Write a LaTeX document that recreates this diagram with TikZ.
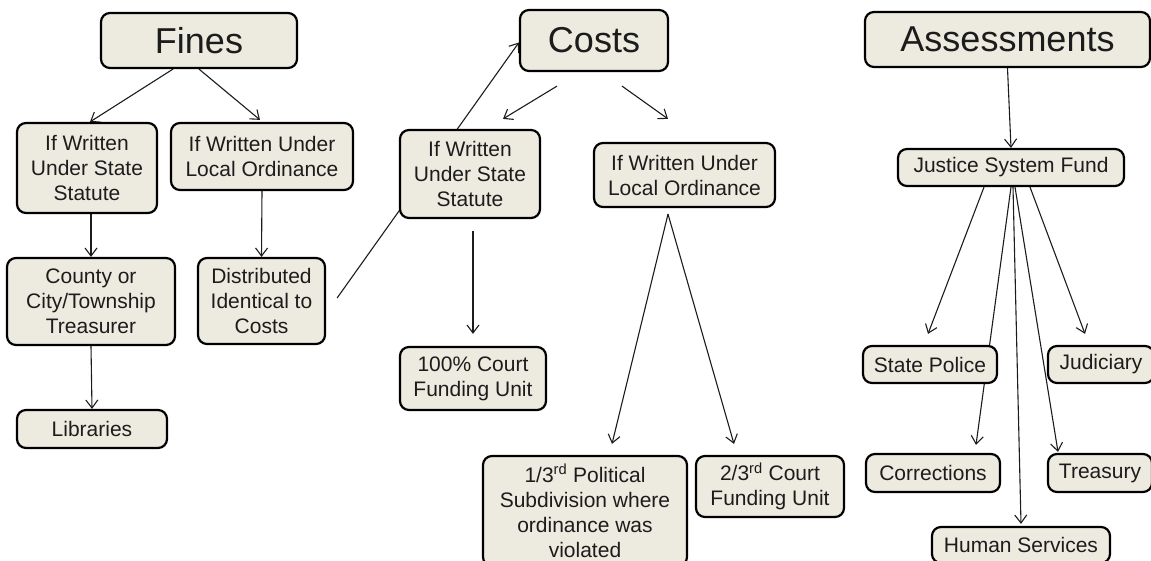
\documentclass[tikz,border=0pt]{standalone}
\usepackage{fontspec}
\setmainfont{Liberation Sans}
\usetikzlibrary{arrows.meta,backgrounds}
\definecolor{boxfill}{RGB}{237,235,224}
\definecolor{inkgray}{RGB}{28,28,28}

\begin{document}
\begin{tikzpicture}[x=1pt,y=-1pt,
  box/.style={draw=black, line width=2.2pt, rounded corners=9pt, fill=boxfill,
    text=inkgray, align=center, inner sep=0pt, font=\fontsize{21}{25}\selectfont},
  head/.style={box, font=\fontsize{36}{40}\selectfont},
  link/.style={draw=inkgray, line width=1.1pt,
    -{Straight Barb[length=8pt,width=12pt,line width=1.1pt]}}]
\clip (0,0) rectangle (1151,561);
% Nodes
\node[head, minimum width=196pt, minimum height=55pt] (fines) at (199,40.5) {Fines};
\node[head, minimum width=148pt, minimum height=61pt] (costs) at (594,40.5) {Costs};
\node[head, minimum width=285pt, minimum height=55pt] (assess) at (1007.5,39.5) {Assessments};
\node[box, minimum width=140pt, minimum height=90pt] (fstate) at (87,168) {If Written\\Under State\\Statute};
\node[box, minimum width=182pt, minimum height=67pt] (flocal) at (262,156.5) {If Written Under\\Local Ordinance};
\node[box, minimum width=168pt, minimum height=87pt] (county) at (91,301.5) {County or\\City/Township\\Treasurer};
\node[box, minimum width=150pt, minimum height=38pt] (libs) at (92,429) {Libraries};
\node[box, minimum width=127pt, minimum height=86pt] (distr) at (261.5,301) {Distributed\\Identical to\\Costs};
\node[box, minimum width=140pt, minimum height=88pt] (cstate) at (470,174) {If Written\\Under State\\Statute};
\node[box, minimum width=181pt, minimum height=64pt] (clocal) at (684.5,175) {If Written Under\\Local Ordinance};
\node[box, minimum width=146pt, minimum height=63pt] (court100) at (473,378.5) {100\% Court\\Funding Unit};
\node[box, minimum width=204pt, minimum height=110pt] (third) at (585,511) {1/3\textsuperscript{rd} Political\\Subdivision where\\ordinance was\\violated};
\node[box, minimum width=148pt, minimum height=61pt] (twothird) at (770,486.5) {2/3\textsuperscript{rd} Court\\Funding Unit};
\node[box, minimum width=226pt, minimum height=37pt] (jsf) at (1011,167.5) {Justice System Fund};
\node[box, minimum width=134pt, minimum height=37pt] (police) at (930,364.5) {State Police};
\node[box, minimum width=106pt, minimum height=37pt] (judic) at (1101,364.5) {Judiciary};
\node[box, minimum width=134pt, minimum height=38pt] (corr) at (933,473) {Corrections};
\node[box, minimum width=104pt, minimum height=38pt] (treas) at (1100,473) {Treasury};
\node[box, minimum width=178pt, minimum height=36pt] (human) at (1021,545) {Human Services};
\coordinate (split) at ([xshift=-16.5pt,yshift=-6pt]clocal.south);
% Lines
\begin{pgfonlayer}{background}
\draw[link] ([xshift=-26pt]fines.south) -- ([xshift=3pt]fstate.north);
\draw[link] (fines.south) -- ([xshift=-2pt,yshift=2pt]flocal.north);
\draw[link] ([xshift=4pt]fstate.south) -- (county.north);
\draw[link] (flocal.south) -- (distr.north);
\draw[link] (county.south) -- (libs.north);
\draw[link] ([xshift=11pt,yshift=3pt]distr.east) -- ([yshift=-2pt]costs.west);
\draw[link] ([xshift=-37pt,yshift=-14pt]costs.south) -- ([xshift=33pt,yshift=10pt]cstate.north);
\draw[link] ([xshift=28pt,yshift=-14pt]costs.south) -- ([xshift=-16.5pt,yshift=23pt]clocal.north);
\draw[link] ([xshift=3pt,yshift=-12pt]cstate.south) -- ([yshift=12pt]court100.north);
\draw[link] (split) -- ([xshift=27pt,yshift=11pt]third.north);
\draw[link] (split) -- ([xshift=-36pt,yshift=11pt]twothird.north);
\draw[link] (assess.south) -- (jsf.north);
\draw[link] ([xshift=-27pt]jsf.south) -- ([xshift=-2pt,yshift=11pt]police.north);
\draw[link] (jsf.south) -- ([xshift=43pt,yshift=8pt]corr.north);
\draw[link] ([xshift=2pt]jsf.south) -- ([yshift=2pt]human.north);
\draw[link] ([xshift=4pt]jsf.south) -- ([xshift=-42pt,yshift=1pt]treas.north);
\draw[link] ([xshift=19pt]jsf.south) -- ([xshift=-16pt,yshift=11pt]judic.north);
\end{pgfonlayer}
\end{tikzpicture}
\end{document}
